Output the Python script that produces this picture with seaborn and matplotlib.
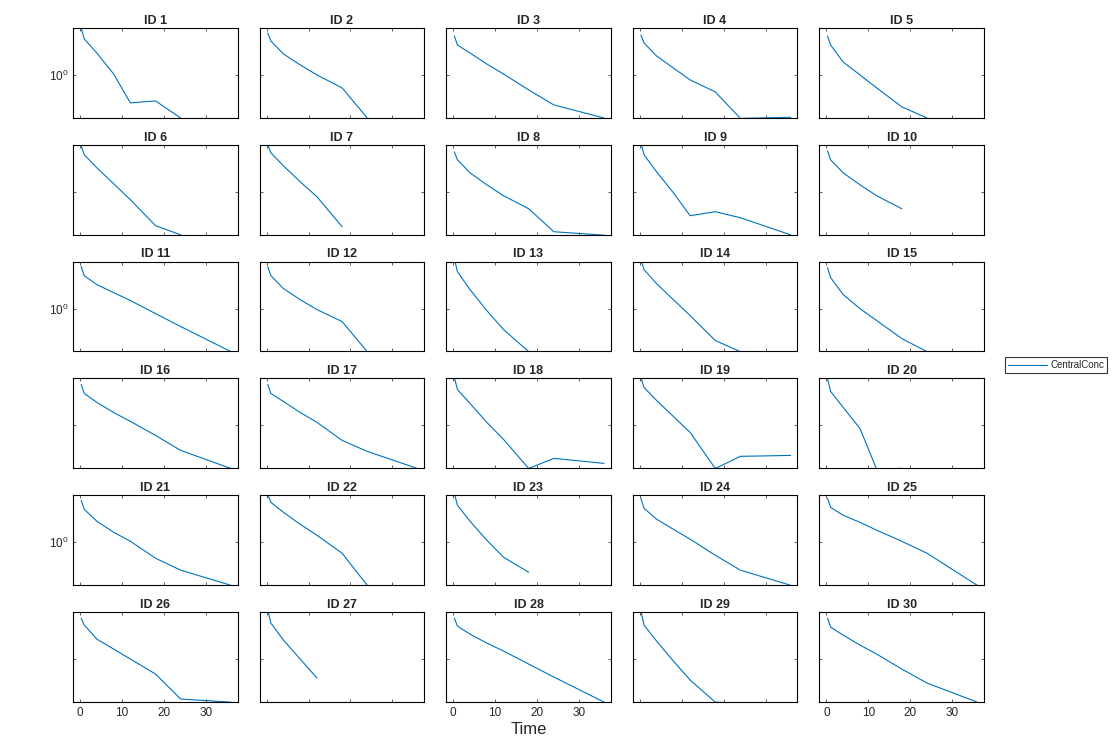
import matplotlib
matplotlib.use("Agg")
import matplotlib.pyplot as plt
import seaborn as sns
import numpy as np
import pandas as pd
from matplotlib.lines import Line2D

# sampling times shared by every subject
times = [0.25, 1, 4, 8, 12, 18, 24, 36]
nan = np.nan

# CentralConc per subject
conc = {
    1: [11.1, 6.31, 3.08, 1.05, 0.239, 0.264, 0.11, nan],
    2: [8.58, 5.70, 2.93, 1.67, 1.00, 0.514, 0.11, nan],
    3: [7.36, 4.64, 3.08, 1.75, 1.05, 0.464, 0.215, 0.11],
    4: [7.74, 5.14, 2.64, 1.43, 0.774, 0.419, 0.108, 0.114],
    5: [7.36, 4.64, 1.94, 1.00, 0.514, 0.195, 0.11, nan],
    6: [10.5, 6.64, 3.41, 1.51, 0.664, 0.176, 0.11, nan],
    7: [11.1, 7.36, 3.78, 1.67, 0.774, 0.167, nan, nan],
    8: [7.74, 5.14, 2.64, 1.43, 0.815, 0.419, 0.129, 0.108],
    9: [12.3, 6.64, 2.78, 0.951, 0.293, 0.360, 0.264, 0.11],
    10: [8.15, 5.14, 2.64, 1.43, 0.815, 0.419, nan, nan],
    11: [8.58, 5.41, 3.41, 2.27, 1.51, 0.774, 0.398, 0.11],
    12: [8.58, 5.41, 2.78, 1.58, 0.951, 0.514, 0.11, nan],
    13: [12.9, 6.64, 2.64, 0.903, 0.342, 0.11, nan, nan],
    14: [12.3, 7.36, 3.59, 1.58, 0.699, 0.195, 0.11, nan],
    15: [8.15, 4.89, 2.05, 1.00, 0.541, 0.215, 0.11, nan],
    16: [8.15, 5.14, 3.25, 1.94, 1.23, 0.599, 0.278, 0.11],
    17: [8.15, 5.14, 3.41, 1.94, 1.17, 0.464, 0.264, 0.11],
    18: [11.7, 6.31, 3.08, 1.17, 0.489, 0.11, 0.185, 0.143],
    19: [11.7, 6.99, 3.59, 1.58, 0.699, 0.11, 0.205, 0.215],
    20: [11.1, 5.70, 2.51, 0.858, 0.105, 0.111, nan, nan],
    21: [8.58, 5.41, 2.93, 1.67, 1.05, 0.441, 0.239, 0.11],
    22: [11.7, 7.74, 4.64, 2.51, 1.43, 0.570, 0.11, nan],
    23: [12.3, 6.64, 2.93, 1.11, 0.464, 0.215, nan, nan],
    24: [9.5, 5.70, 3.25, 1.94, 1.17, 0.514, 0.239, 0.11],
    25: [9.5, 5.99, 3.98, 2.78, 1.85, 1.05, 0.570, 0.11],
    26: [8.15, 5.70, 2.78, 1.67, 1.00, 0.464, 0.129, 0.11],
    27: [12.3, 6.31, 2.64, 1.00, 0.379, nan, nan, nan],
    28: [8.15, 5.41, 3.59, 2.27, 1.51, 0.774, 0.398, 0.11],
    29: [11.7, 5.70, 2.51, 0.903, 0.342, 0.11, 0.105, nan],
    30: [8.15, 5.14, 3.41, 2.05, 1.29, 0.599, 0.293, 0.11],
}

rows = []
for sid, vals in conc.items():
    for t, c in zip(times, vals):
        rows.append({"ID": sid, "Time": t, "CentralConc": c})
df = pd.DataFrame(rows).dropna()

sns.set_style("ticks")
plt.rcParams["font.family"] = ["Liberation Sans", "DejaVu Sans"]
plt.rcParams["axes.linewidth"] = 0.8

line_color = "#0072BD"
text_color = "#262626"

fig, axes = plt.subplots(6, 5, figsize=(11.16, 7.44), dpi=100, sharex=True, sharey=True)
fig.subplots_adjust(left=0.0654, right=0.8817, top=0.9624, bottom=0.0565,
                    wspace=0.133, hspace=0.3)

for i, ax in enumerate(axes.flat):
    sid = i + 1
    r, c = divmod(i, 5)
    sub = df[df["ID"] == sid]
    sns.lineplot(data=sub, x="Time", y="CentralConc", ax=ax, color=line_color,
                 linewidth=0.8, estimator=None, legend=False)
    ax.set_yscale("log")
    ax.set_title(f"ID {sid}", fontsize=9, fontweight="bold", pad=3)
    ax.set_xlabel("")
    ax.set_ylabel("")
    ax.minorticks_off()
    for s in ax.spines.values():
        s.set_visible(True)
        s.set_color("black")
    ax.tick_params(direction="in", length=2.5, width=0.6, top=True, right=True,
                   labelsize=8.5, colors=text_color)
    ax.tick_params(axis="both", color="#404040")
    show_y = (c == 0 and r % 2 == 0)
    show_x = (r == 5 and c % 2 == 0)
    ax.tick_params(labelleft=show_y, labelbottom=show_x)

ax0 = axes[0, 0]
ax0.set_xlim(-1.7, 37.6)
ax0.set_ylim(0.111, 11.1)
ax0.set_xticks([0, 10, 20, 30])
ax0.set_yticks([1])
ax0.yaxis.set_minor_locator(matplotlib.ticker.NullLocator())

fig.text(0.474, 0.01, "Time", ha="center", va="bottom", fontsize=12, color=text_color)

handle = Line2D([], [], color=line_color, linewidth=0.8)
leg = fig.legend([handle], ["CentralConc"], loc="center left",
                 bbox_to_anchor=(0.896, 1 - 365 / 744), fontsize=7, frameon=True,
                 fancybox=False, edgecolor="black", handlelength=4.0,
                 borderpad=0.3, handletextpad=0.4)
leg.get_frame().set_linewidth(0.8)

fig.savefig("out.png", dpi=100)
